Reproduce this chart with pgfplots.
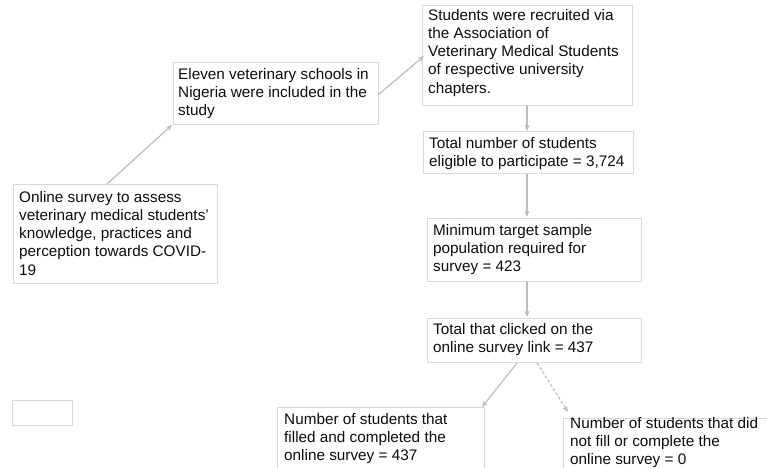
\documentclass[border=0pt]{standalone}
\usepackage{fontspec}
\setmainfont{Liberation Sans}
\usepackage{pgfplots}
\pgfplotsset{compat=1.18}
\usetikzlibrary{arrows.meta}
\definecolor{BoxGray}{HTML}{D9D9D9}
\definecolor{ArrowGray}{HTML}{BDBDBD}
\definecolor{TextDark}{HTML}{0D0D0D}
% base west of a multi-line node = baseline of its LAST line
\tikzset{
  box/.style={draw=BoxGray, line width=0.9pt, fill=white},
  arr/.style={draw=ArrowGray, line width=1.2pt, -{Stealth[length=6pt,width=5pt,inset=1.5pt]}},
  txt/.style={anchor=base west, inner sep=0pt, align=left, text=TextDark,
    font=\fontsize{15.3}{18.3}\selectfont},
}

\begin{document}
\begin{tikzpicture}
\begin{axis}[
  x=1pt, y=1pt,
  xmin=0, xmax=767, ymin=0, ymax=467,
  y dir=reverse,
  hide axis, clip=false,
]
% boxes
\addplot[box] coordinates {(13,184) (217,184) (217,283) (13,283) (13,184)};
\addplot[box] coordinates {(173,62) (378,62) (378,124) (173,124) (173,62)};
\addplot[box] coordinates {(422,5) (632,5) (632,105) (422,105) (422,5)};
\addplot[box] coordinates {(423,131) (633,131) (633,173) (423,173) (423,131)};
\addplot[box] coordinates {(427,218) (641,218) (641,281) (427,281) (427,218)};
\addplot[box] coordinates {(427,318) (641,318) (641,362) (427,362) (427,318)};
\addplot[box] coordinates {(12,400) (72,400) (72,425) (12,425) (12,400)};
\addplot[box] coordinates {(277,407) (484,407) (484,480) (277,480) (277,407)};
\addplot[box] coordinates {(563,418) (780,418) (780,480) (563,480) (563,418)};
% arrows
\addplot[arr] coordinates {(107,184) (172,125)};
\addplot[arr] coordinates {(378,95) (424,56)};
\addplot[arr] coordinates {(527,106) (527,131)};
\addplot[arr] coordinates {(527,174) (527,217)};
\addplot[arr] coordinates {(527,282) (527,317)};
\addplot[arr] coordinates {(517,363) (482,407)};
\addplot[arr, dash pattern=on 3pt off 2pt] coordinates {(537,363) (568,412)};
% texts
\node[txt] at (axis cs:19,275.2) {Online survey to assess\\veterinary medical students'\\knowledge, practices and\\perception towards COVID-\\19};
\node[txt] at (axis cs:178,115.6) {Eleven veterinary schools in\\Nigeria were included in the\\study};
\node[txt] at (axis cs:428,93.2) {Students were recruited via\\the Association of\\Veterinary Medical Students\\of respective university\\chapters.};
\node[txt] at (axis cs:429,166.3) {Total number of students\\eligible to participate = 3,724};
\node[txt] at (axis cs:433,271.6) {Minimum target sample\\population required for\\survey = 423};
\node[txt] at (axis cs:433,352.3) {Total that clicked on the\\online survey link = 437};
\node[txt] at (axis cs:284,460.6) {Number of students that\\filled and completed the\\online survey = 437};
\node[txt] at (axis cs:570,464.6) {Number of students that did\\not fill or complete the\\online survey = 0};
\end{axis}
\pgfresetboundingbox
\path (current axis.south west) rectangle (current axis.north east);
\end{tikzpicture}
\end{document}
